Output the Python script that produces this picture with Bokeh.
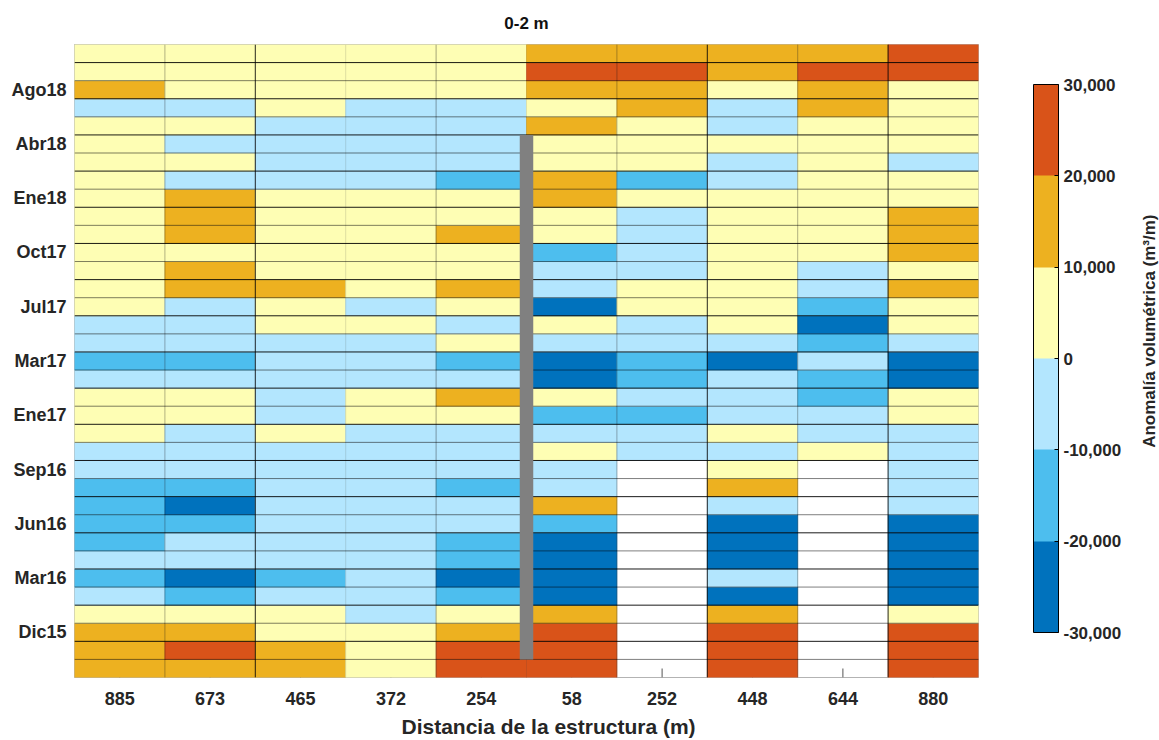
import math
from bokeh.plotting import figure
from bokeh.models import (ColumnDataSource, LinearColorMapper, ColorBar, FixedTicker,
                          NumeralTickFormatter, LinearAxis, Title)
from bokeh.transform import transform
from bokeh.embed import file_html
from bokeh.resources import INLINE

nan = float("nan")

# transects, ordered along the coast
distances = ["885", "673", "465", "372", "254", "58", "252", "448", "644", "880"]

# survey rows (oldest at the bottom) that carry a date label
date_rows = [2, 5, 8, 11, 14, 17, 20, 23, 26, 29, 32]
date_labels = ["Dic15", "Mar16", "Jun16", "Sep16", "Ene17", "Mar17",
               "Jul17", "Oct17", "Ene18", "Abr18", "Ago18"]

# volumetric anomaly (m3/m) of the 0-2 m band per transect, oldest survey first
a885 = [14200, 16800, 13500, 4100, -6300, -14800, -7900, -12600, -15200, -13100,
        -11800, -5200, -3400, 2600, 5900, 3800, -4700, -13900, -6100, -2900,
        3300, 7200, 4500, 6100, 5400, 2800, 6600, 3900, 5200, 7400,
        4800, -3600, 13700, 5500, 3100]
a673 = [17400, 23800, 15600, 6200, -16300, -24700, -8200, -6900, -13400, -22600,
        -17100, -4800, -6200, -5500, 4300, 6800, -7400, -14600, -5900, -8100,
        -3700, 12900, 14800, 7600, 13300, 16100, 15200, -7800, 4600, -6600,
        3900, -5100, 6300, 4200, 5800]
a465 = [13600, 11900, 7300, 5100, -6800, -11400, -7200, -5600, -8300, -6400,
        -4900, -7700, -3800, 3600, -5300, -6900, -4100, -7600, -5800, 2400,
        5700, 11300, 6400, 3900, 5300, 6700, 4400, -5400, -7300, -6100,
        -3300, 2100, 5900, 6800, 4700]
a372 = [8100, 6900, 5400, -3200, -5700, -8600, -6300, -7100, -4600, -5900,
        -6700, -4300, -7400, -5100, 4700, 3400, -6200, -8800, -3900, 3100,
        -2600, 6100, 7300, 4900, 5600, 3700, 6200, -4900, -6600, -7200,
        -5800, -4400, 4100, 5200, 6400]
a254 = [26300, 22700, 16400, 4800, -13800, -23900, -16200, -15100, -8700, -6300,
        -12400, -6800, -4200, -7900, 5300, 13600, -8400, -15700, 3800, -4600,
        6200, 14700, 3300, 4600, 17200, 5800, 7100, -16900, -7600, -8400,
        -5700, -6900, 5100, 3700, 6600]
a58 = [28400, 27100, 24600, 15300, -26800, -27900, -25400, -23700, -14300, 12800,
       -7100, -5600, 3900, -6800, -13200, 4400, -24100, -26300, -7300, 5600,
       -22800, -6100, -3900, -14900, 6400, 3600, 17800, 14600, 4200, 7300,
       12400, 5900, 16300, 25200, 18700]
a252 = [nan, nan, nan, nan, nan, nan, nan, nan, nan, nan,
        nan, nan, -6200, -4800, -15600, -7300, -17400, -13100, -5900, -8200,
        4100, 6700, -5400, -6800, -7900, -4400, 5200, -16600, 6300, 3800,
        7900, 15400, 13200, 26900, 14100]
a448 = [25700, 27400, 23300, 14900, -24600, -6700, -25900, -27200, -23400, -7600,
        13900, 5300, -4700, 3600, -6400, -7800, -5200, -24300, -8100, 6900,
        5100, 4300, 7600, 3200, 6700, 5900, 4400, -6200, -5300, 5700,
        -7400, -6600, 3900, 16600, 14200]
a644 = [nan, nan, nan, nan, nan, nan, nan, nan, nan, nan,
        nan, nan, 4600, -5800, -7100, -13600, -15800, -6900, -17300, -25800,
        -14400, -6300, -7700, 5400, 3800, 6100, 4900, 7200, 5600, 3300,
        6800, 16900, 15700, 24400, 17800]
a880 = [27600, 25300, 28100, 6900, -26400, -28200, -24800, -27300, -25600, -7900,
        -6400, -5300, -7200, -4100, 6300, 5100, -23600, -26900, -6600, 4800,
        7400, 15800, 6200, 13900, 16400, 14700, 5300, 3900, -5700, 4600,
        6800, 5400, 7100, 23700, 26500]

# coastal structure (between transects 254 and 58), present from survey 1 to survey 29
structure_edge = 5
structure_first, structure_last = 1, 29

cb_ticks = [-30000, -20000, -10000, 0, 10000, 20000, 30000]
palette = ["#0072BD", "#4DBEEE", "#B3E6FE", "#FEFEB4", "#EDB120", "#D95319"]

columns = [a885, a673, a465, a372, a254, a58, a252, a448, a644, a880]
n_cols = len(columns)
n_rows = len(a885)

xs, ys, vals = [], [], []
for j, col in enumerate(columns):
    for i, v in enumerate(col):
        if not math.isnan(v):
            xs.append(j)
            ys.append(i)
            vals.append(v)
cells = ColumnDataSource(dict(left=xs, right=[x + 1 for x in xs],
                              bottom=ys, top=[y + 1 for y in ys], v=vals))

mapper = LinearColorMapper(palette=palette, low=cb_ticks[0], high=cb_ticks[-1])

FONT = "Liberation Sans"
TXT = "#262626"

p = figure(frame_width=904, frame_height=633,
           x_range=(0, n_cols), y_range=(0, n_rows),
           min_border_left=74, min_border_right=181,
           min_border_top=44, min_border_bottom=63,
           toolbar_location=None, output_backend="svg",
           title="0-2 m")
p.background_fill_color = "white"
p.border_fill_color = "white"
p.grid.visible = False
p.outline_line_color = "#808080"
p.outline_line_alpha = 0.6

p.title.align = "center"
p.title.text_font = FONT
p.title.text_font_size = "17px"
p.title.text_font_style = "bold"
p.title.text_color = "#111111"
p.title.standoff = 23

# x ticks sit underneath the cells, so they only show where data is missing
centers = [j + 0.5 for j in range(n_cols)]
p.ray(x=centers, y=0, length=9, length_units="screen", angle=math.pi / 2,
      line_color="#555555", line_width=1)

p.quad(left="left", right="right", bottom="bottom", top="top", source=cells,
       fill_color=transform("v", mapper), line_color=transform("v", mapper),
       line_width=0.6)

# survey separators (alternating weight) and transect separators
row_edges = list(range(1, n_rows))
row_alpha = [0.9 if k % 2 == 0 else 0.5 for k in row_edges]
p.segment(x0=0, x1=n_cols, y0=row_edges, y1=row_edges,
          line_color="black", line_width=1, line_alpha=row_alpha)
col_edges = list(range(1, n_cols))
col_alpha = [0.3, 0.85, 0.12, 0.35, 0.1, 0.3, 0.85, 0.3, 0.85]
p.segment(x0=col_edges, x1=col_edges, y0=0, y1=n_rows,
          line_color="black", line_width=1, line_alpha=col_alpha)

# the structure
p.quad(left=structure_edge, right=structure_edge,
       bottom=structure_first, top=structure_last + 1,
       line_color="#808080", line_width=13.5)

for ax in (p.xaxis[0], p.yaxis[0]):
    ax.axis_line_color = None
    ax.major_tick_line_color = None
    ax.minor_tick_line_color = None
    ax.major_label_text_font = FONT
    ax.major_label_text_font_size = "18px"
    ax.major_label_text_font_style = "bold"
    ax.major_label_text_color = TXT

p.xaxis.ticker = FixedTicker(ticks=centers)
p.xaxis.major_label_overrides = {c: d for c, d in zip(centers, distances)}
p.xaxis.major_label_standoff = 8

date_centers = [r + 0.5 for r in date_rows]
p.yaxis.ticker = FixedTicker(ticks=date_centers)
p.yaxis.major_label_overrides = {c: d for c, d in zip(date_centers, date_labels)}
p.yaxis.major_label_standoff = 2

# x axis title, set a little right of the frame centre
p.add_layout(Title(text="Distancia de la estructura (m)", align="left", offset=327,
                   standoff=10, text_font=FONT, text_font_size="21px",
                   text_font_style="bold", text_color=TXT), "below")

cb = ColorBar(color_mapper=mapper, ticker=FixedTicker(ticks=cb_ticks),
              formatter=NumeralTickFormatter(format="0,0"),
              width=25, height=548, location=(55, 45), padding=0, margin=0,
              bar_line_color="black", bar_line_width=1,
              major_tick_line_color="black", major_tick_in=4, major_tick_out=0,
              label_standoff=5,
              major_label_text_font=FONT, major_label_text_font_size="17px",
              major_label_text_font_style="bold", major_label_text_color=TXT,
              background_fill_alpha=0, border_line_color=None)
p.add_layout(cb, "right")

# colour bar title: a single upright tick label on a bare axis beyond the bar
cb_title_at = 12.7
cb_title = LinearAxis(ticker=FixedTicker(ticks=[cb_title_at]),
                      major_label_overrides={cb_title_at: "Anomalía volumétrica (m³/m)"},
                      major_label_orientation=math.pi / 2,
                      major_label_standoff=19,
                      major_label_text_font=FONT, major_label_text_font_size="17px",
                      major_label_text_font_style="bold",
                      major_label_text_color=TXT,
                      axis_line_color=None, major_tick_line_color=None,
                      minor_tick_line_color=None)
p.add_layout(cb_title, "right")

open("out.html", "w").write(file_html(p, INLINE))
